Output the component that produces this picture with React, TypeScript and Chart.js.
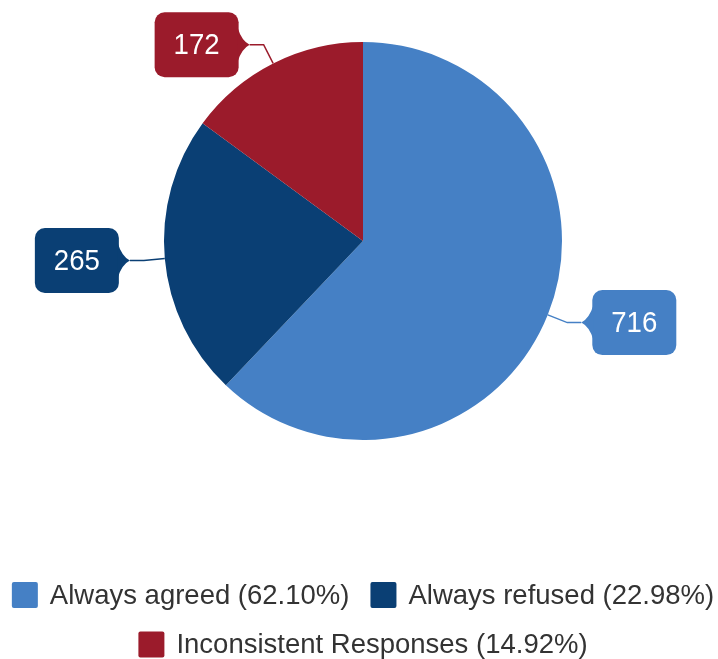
import React, { useEffect, useRef } from 'react';
import { Chart, registerables } from 'chart.js';

Chart.register(...registerables);

const categories = ['Always agreed', 'Always refused', 'Inconsistent Responses'];
const counts = [716, 265, 172];
const colors = ['#4580c5', '#0a3f74', '#9b1b2b'];

const total = counts.reduce((a, b) => a + b, 0);
const percents = counts.map((v) => ((v / total) * 100).toFixed(2) + '%');

const FONT = '"Liberation Sans", Arial, sans-serif';

const calloutPlugin = {
  id: 'callouts',
  afterDatasetsDraw(chart: any) {
    const ctx = chart.ctx;
    const meta = chart.getDatasetMeta(0);
    const values = chart.data.datasets[0].data as number[];
    meta.data.forEach((arc: any, i: number) => {
      const { x, y, startAngle, endAngle, outerRadius } = arc.getProps(
        ['x', 'y', 'startAngle', 'endAngle', 'outerRadius'],
        true
      );
      const mid = (startAngle + endAngle) / 2;
      const cos = Math.cos(mid);
      const sin = Math.sin(mid);
      const radial = 21;
      const p0 = { x: x + cos * outerRadius, y: y + sin * outerRadius };
      const p1 = { x: x + cos * (outerRadius + radial), y: y + sin * (outerRadius + radial) };
      const right = cos >= 0;
      const dir = right ? 1 : -1;
      const tip = { x: p1.x + dir * 14, y: p1.y };
      const color = colors[i];

      ctx.save();
      // leader line
      ctx.strokeStyle = color;
      ctx.lineWidth = 1.5;
      ctx.beginPath();
      ctx.moveTo(p0.x, p0.y);
      ctx.lineTo(p1.x, p1.y);
      ctx.lineTo(tip.x, tip.y);
      ctx.stroke();

      // box
      const ptrLen = 11;
      const w = 84;
      const h = 65;
      const r = 10;
      const edgeX = tip.x + dir * ptrLen;
      const bx = right ? edgeX : edgeX - w;
      const by = tip.y - h / 2;
      ctx.fillStyle = color;
      ctx.beginPath();
      ctx.moveTo(bx + r, by);
      ctx.lineTo(bx + w - r, by);
      ctx.arcTo(bx + w, by, bx + w, by + r, r);
      ctx.lineTo(bx + w, by + h - r);
      ctx.arcTo(bx + w, by + h, bx + w - r, by + h, r);
      ctx.lineTo(bx + r, by + h);
      ctx.arcTo(bx, by + h, bx, by + h - r, r);
      ctx.lineTo(bx, by + r);
      ctx.arcTo(bx, by, bx + r, by, r);
      ctx.closePath();
      ctx.fill();

      // pointer
      ctx.beginPath();
      ctx.moveTo(edgeX + dir * 1, tip.y - 17);
      ctx.quadraticCurveTo(edgeX - dir * 3, tip.y - 4, tip.x, tip.y);
      ctx.quadraticCurveTo(edgeX - dir * 3, tip.y + 4, edgeX + dir * 1, tip.y + 17);
      ctx.closePath();
      ctx.fill();

      // text (slightly condensed, like the reference)
      ctx.fillStyle = '#ffffff';
      ctx.font = `30px ${FONT}`;
      ctx.textAlign = 'center';
      ctx.textBaseline = 'middle';
      ctx.translate(bx + w / 2, tip.y + 1);
      ctx.scale(0.92, 1);
      ctx.fillText(String(values[i]), 0, 0);
      ctx.restore();
    });
  },
};

const legendPlugin = {
  id: 'customLegend',
  afterDraw(chart: any) {
    const ctx = chart.ctx;
    ctx.save();
    ctx.font = `27.5px ${FONT}`;
    ctx.textBaseline = 'middle';
    ctx.textAlign = 'left';
    const items = categories.map((c, i) => ({ text: `${c} (${percents[i]})`, color: colors[i] }));
    const rows = [[0, 1], [2]];
    const rowY = [chart.height - 64, chart.height - 14.5];
    const box = 26;
    const gap = 12;
    const itemGap = 21;
    const cx = chart.width / 2 + 4;
    rows.forEach((row, ri) => {
      const widths = row.map((idx) => box + gap + ctx.measureText(items[idx].text).width);
      const totalW = widths.reduce((a, b) => a + b, 0) + itemGap * (row.length - 1);
      let xx = cx - totalW / 2;
      row.forEach((idx, k) => {
        const yy = rowY[ri];
        ctx.fillStyle = items[idx].color;
        ctx.beginPath();
        ctx.moveTo(xx + 2, yy - box / 2);
        ctx.arcTo(xx + box, yy - box / 2, xx + box, yy + box / 2, 2);
        ctx.arcTo(xx + box, yy + box / 2, xx, yy + box / 2, 2);
        ctx.arcTo(xx, yy + box / 2, xx, yy - box / 2, 2);
        ctx.arcTo(xx, yy - box / 2, xx + box, yy - box / 2, 2);
        ctx.closePath();
        ctx.fill();
        ctx.fillStyle = '#333333';
        ctx.fillText(items[idx].text, xx + box + gap, yy + 1);
        xx += widths[k] + itemGap;
      });
    });
    ctx.restore();
  },
};

export default function App() {
  const canvasRef = useRef<HTMLCanvasElement | null>(null);

  useEffect(() => {
    if (!canvasRef.current) return;
    const chart = new Chart(canvasRef.current, {
      type: 'pie',
      data: {
        labels: categories,
        datasets: [
          {
            data: counts,
            backgroundColor: colors,
            borderWidth: 0,
          },
        ],
      },
      options: {
        responsive: false,
        animation: false,
        layout: { padding: { top: 42, bottom: 219, left: 164, right: 156 } },
        plugins: {
          legend: { display: false },
          tooltip: { enabled: false },
          title: { display: false },
        },
      },
      plugins: [calloutPlugin, legendPlugin],
    });
    return () => chart.destroy();
  }, []);

  return (
    <div style={{ position: 'absolute', left: 0, top: 0, width: 718, height: 659, background: '#ffffff' }}>
      <canvas ref={canvasRef} width={718} height={659} />
    </div>
  );
}
